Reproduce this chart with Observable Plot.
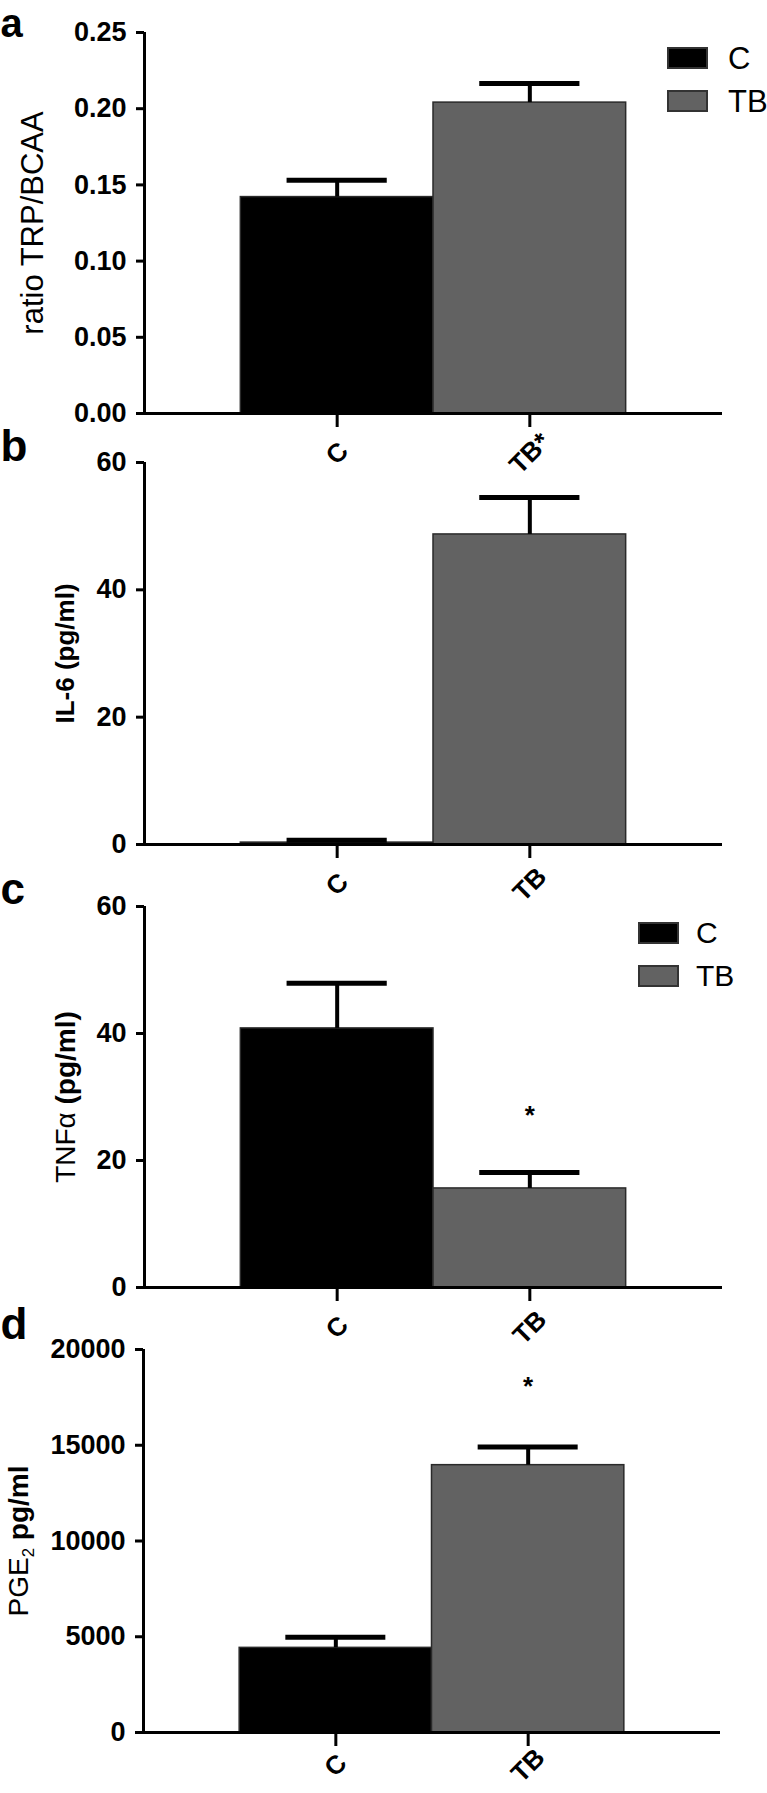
<!DOCTYPE html>
<html><head><meta charset="utf-8">
<script src="https://cdn.jsdelivr.net/npm/d3@7"></script>
<script src="https://cdn.jsdelivr.net/npm/@observablehq/plot@0.6"></script>
<style>
body{margin:0;background:#fff;}
#fig{position:relative;width:767px;height:1793px;overflow:hidden;font-family:"Liberation Sans",Arial,sans-serif;background:#fff;}
#fig svg{position:absolute;left:0;}
.item{position:absolute;display:flex;align-items:center;height:22px;color:#000;}
.sw{box-sizing:border-box;border:2px solid #333;flex:none;}
</style></head><body><div id="fig"></div>
<script>
// ---- data ----
const categories = ["C", "TB"];
const groupColors = ["#000000", "#626262"];

// panel a
const ratioMean = [0.142, 0.204];
const ratioSem = [0.011, 0.0125];
const ratioTicks = [0, 0.05, 0.10, 0.15, 0.20, 0.25];
const ratioXLabels = ["C", "TB*"];

// panel b
const il6Mean = [0.3, 48.7];
const il6Sem = [0.35, 5.8];
const il6Ticks = [0, 20, 40, 60];
const il6XLabels = ["C", "TB"];

// panel c
const tnfMean = [40.8, 15.6];
const tnfSem = [7.1, 2.5];
const tnfTicks = [0, 20, 40, 60];
const tnfXLabels = ["C", "TB"];
const tnfStar = [{cat: "TB", y: 28.1}];

// panel d
const pge2Mean = [4420, 13960];
const pge2Sem = [550, 950];
const pge2Ticks = [0, 5000, 10000, 15000, 20000];
const pge2XLabels = ["C", "TB"];
const pge2Star = [{cat: "TB", y: 18450}];

const FONT = '"Liberation Sans", Arial, Helvetica, sans-serif';
const fig = document.getElementById("fig");

function panel(cfg) {
  const rows = categories.map((c, i) => ({cat: c, i, mean: cfg.mean[i], hi: cfg.mean[i] + cfg.sem[i], label: cfg.xLabels[i]}));
  const ymax = cfg.ticks[cfg.ticks.length - 1];
  const ylabel = cfg.ylabel.map(p => p.t).join("");
  const stars = (cfg.star || []).map(s => ({i: categories.indexOf(s.cat), y: s.y}));
  const ML = cfg.ml ?? 144, MR = cfg.mr ?? 45;
  const marks = [
    Plot.rect(rows, {x1: d => d.i - 0.5, x2: d => d.i + 0.5, y1: 0, y2: "mean", fill: "cat", stroke: "#2a2a2a", strokeWidth: 1.5}),
    Plot.ruleX(rows, {x: "i", y1: "mean", y2: "hi", strokeWidth: 4, stroke: "#000"}),
    Plot.ruleY(rows, {y: "hi", x1: d => d.i - 0.26, x2: d => d.i + 0.26, strokeWidth: 5, stroke: "#000"}),
    Plot.ruleY([0], {strokeWidth: 3, stroke: "#000"}),
    Plot.ruleX([-1], {y1: 0, y2: ymax, strokeWidth: 3, stroke: "#000"}),
    Plot.axisY(cfg.ticks, {tickFormat: cfg.fmt, tickSize: 8, tickPadding: 10, strokeWidth: 3, fontSize: 27, fontWeight: "bold", label: null}),
    Plot.axisX(rows.map(d => d.i), {tickSize: 14, strokeWidth: 3, tickFormat: () => "", label: null}),
    Plot.text(rows, {x: "i", text: "label", frameAnchor: "bottom", dy: cfg.xLabelDy ?? 40, rotate: -45, textAnchor: "middle", lineAnchor: "middle", fontSize: 26, fontWeight: "bold"}),
    Plot.text([ylabel], {frameAnchor: "left", rotate: -90, dx: cfg.ylabelDx, textAnchor: "middle", lineAnchor: "middle", fontSize: cfg.ylabelSize, fontWeight: "normal"}),
    Plot.text([cfg.letter], {frameAnchor: "top-left", dx: -ML, dy: cfg.letterDy, textAnchor: "start", lineAnchor: "bottom", fontSize: cfg.letterSize ?? 44, fontWeight: "bold"}),
    Plot.text(stars, {x: "i", y: "y", text: () => "*", fontSize: 26, fontWeight: "bold", lineAnchor: "middle", dy: 7})
  ];
  const svg = Plot.plot({
    width: 767,
    height: cfg.mt + cfg.plotH + cfg.mb,
    marginTop: cfg.mt,
    marginBottom: cfg.mb,
    marginLeft: ML,
    marginRight: MR,
    x: {type: "linear", domain: [-1, categories.length]},
    y: {domain: [0, ymax]},
    color: {domain: categories, range: groupColors},
    style: {background: "transparent", overflow: "visible", fontFamily: FONT, fontSize: "27px", fontWeight: "bold", color: "#000"},
    marks
  });
  svg.style.top = cfg.top + "px";
  // rich y label (mixed weights / subscript)
  svg.querySelectorAll("text").forEach(t => {
    if (t.textContent === ylabel && cfg.ylabel.length > 0) {
      while (t.firstChild) t.removeChild(t.firstChild);
      let shifted = false;
      cfg.ylabel.forEach(p => {
        const ts = document.createElementNS("http://www.w3.org/2000/svg", "tspan");
        ts.textContent = p.t;
        ts.setAttribute("font-weight", p.w);
        if (p.sub) { ts.setAttribute("font-size", "0.6em"); ts.setAttribute("dy", "0.35em"); shifted = true; }
        else if (shifted) { ts.setAttribute("dy", "-0.21em"); shifted = false; }
        t.appendChild(ts);
      });
    }
  });
  fig.appendChild(svg);
}

panel({letter: "a", letterSize: 40, mean: ratioMean, sem: ratioSem, ticks: ratioTicks, fmt: d3.format(".2f"), xLabels: ratioXLabels,
  ylabel: [{t: "ratio TRP/BCAA", w: "normal"}], ylabelDx: -111, ylabelSize: 31, top: 0, mt: 32, plotH: 381, mb: 70, letterDy: 4});
panel({letter: "b", mean: il6Mean, sem: il6Sem, ticks: il6Ticks, fmt: d3.format("d"), xLabels: il6XLabels,
  ylabel: [{t: "IL-6 (pg/ml)", w: "bold"}], ylabelDx: -79, ylabelSize: 26, top: 430, mt: 32, plotH: 382, mb: 70, letterDy: -2});
panel({letter: "c", mean: tnfMean, sem: tnfSem, ticks: tnfTicks, fmt: d3.format("d"), xLabels: tnfXLabels, star: tnfStar,
  ylabel: [{t: "TNFα", w: "normal"}, {t: " (pg/ml)", w: "bold"}], ylabelDx: -78, ylabelSize: 28, top: 874, mt: 32, plotH: 381, mb: 70, letterDy: -3});
panel({letter: "d", mean: pge2Mean, sem: pge2Sem, ticks: pge2Ticks, fmt: d3.format("d"), xLabels: pge2XLabels, star: pge2Star, xLabelDy: 33,
  ylabel: [{t: "PGE", w: "normal"}, {t: "2", w: "normal", sub: true}, {t: " pg/ml", w: "bold"}], ylabelDx: -124, ylabelSize: 28, top: 1317, mt: 32, plotH: 383, mb: 61, letterDy: -11, ml: 143, mr: 47});

// legends (HTML, panels a and c)
function legend(left, tops, textGap, fontSize, h) {
  categories.forEach((c, i) => {
    const it = document.createElement("div");
    it.className = "item";
    it.style.left = left + "px";
    it.style.top = tops[i] + "px";
    it.style.height = h + "px";
    const sw = document.createElement("div");
    sw.className = "sw";
    sw.style.width = "41px";
    sw.style.height = h + "px";
    sw.style.background = groupColors[i];
    const tx = document.createElement("span");
    tx.textContent = c;
    tx.style.marginLeft = textGap + "px";
    tx.style.fontSize = fontSize + "px";
    tx.style.lineHeight = "1";
    it.appendChild(sw); it.appendChild(tx);
    fig.appendChild(it);
  });
}
legend(667, [47, 90], 20, 31, 22);
legend(638, [922, 965], 17, 30, 22);
</script></body></html>
